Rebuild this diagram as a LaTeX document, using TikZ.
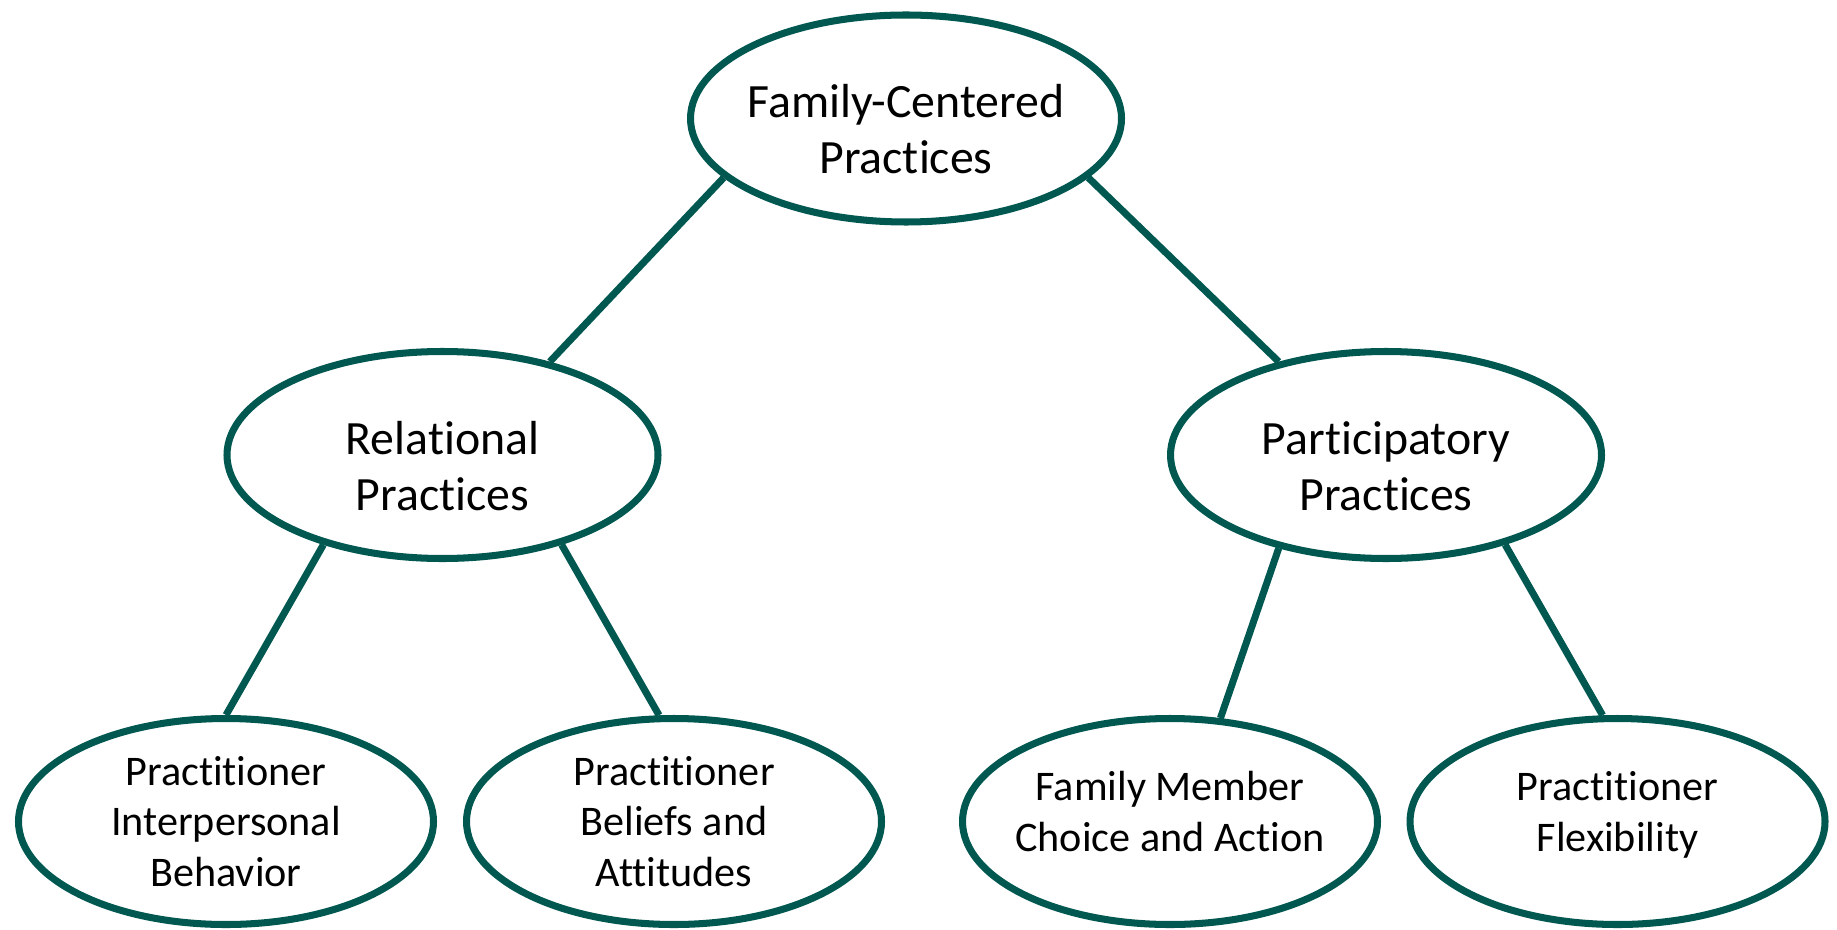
\documentclass[tikz,border=0pt]{standalone}
\usepackage{fontspec}
\setmainfont[Ligatures=NoCommon]{Carlito}
\definecolor{darkteal}{RGB}{0,88,80}
\usetikzlibrary{shapes,positioning}
\tikzstyle{practice}=[draw=darkteal,ellipse,line width=2pt,align=center,
  inner xsep=-0.3cm,inner ysep=-0.1cm,
  minimum width=4.31cm,minimum height=2.07cm,font=\fontsize{13.6}{16}\selectfont,
  text height=1.2cm,text depth=0.09cm]
\tikzstyle{leaf}=[practice,minimum width=4.15cm,minimum height=2.06cm,
  font=\fontsize{12}{14.4}\selectfont,text height=0.7cm,text depth=0.11cm]
\tikzstyle{leaf3}=[leaf,text height=1.4cm,text depth=0.1cm]
\tikzstyle{link}=[draw=darkteal,line width=2pt]

\begin{document}
\begin{tikzpicture}[on grid]
  \useasboundingbox (0,0) rectangle (18.37,9.29);
  \node[practice] (fcp) at (9.06,8.105) {Family-Centered\\Practices};
  \node[practice, below left=3.365cm and 4.635cm of fcp] (rel) {Relational\\Practices};
  \node[practice, below right=3.365cm and 4.8cm of fcp] (par) {Participatory\\Practices};
  \node[leaf3, below left=3.665cm and 2.165cm of rel] (pib) {Practitioner\\Interpersonal\\Behavior};
  \node[leaf3, below right=3.665cm and 2.315cm of rel] (pba) {Practitioner\\Beliefs and\\Attitudes};
  \node[leaf, below left=3.665cm and 2.16cm of par] (fmc) {Family Member\\Choice and Action};
  \node[leaf, below right=3.665cm and 2.315cm of par] (pfl) {Practitioner\\Flexibility};
  \draw[link] (fcp.198) -- (rel.41);
  \draw[link] (fcp.342) -- (par.139);
  \draw[link] (rel.217) -- (pib.90);
  \draw[link] (rel.323) -- (pba.98);
  \draw[link] (par.221) -- (fmc.64);
  \draw[link] (par.323) -- (pfl.98);
\end{tikzpicture}
\end{document}
